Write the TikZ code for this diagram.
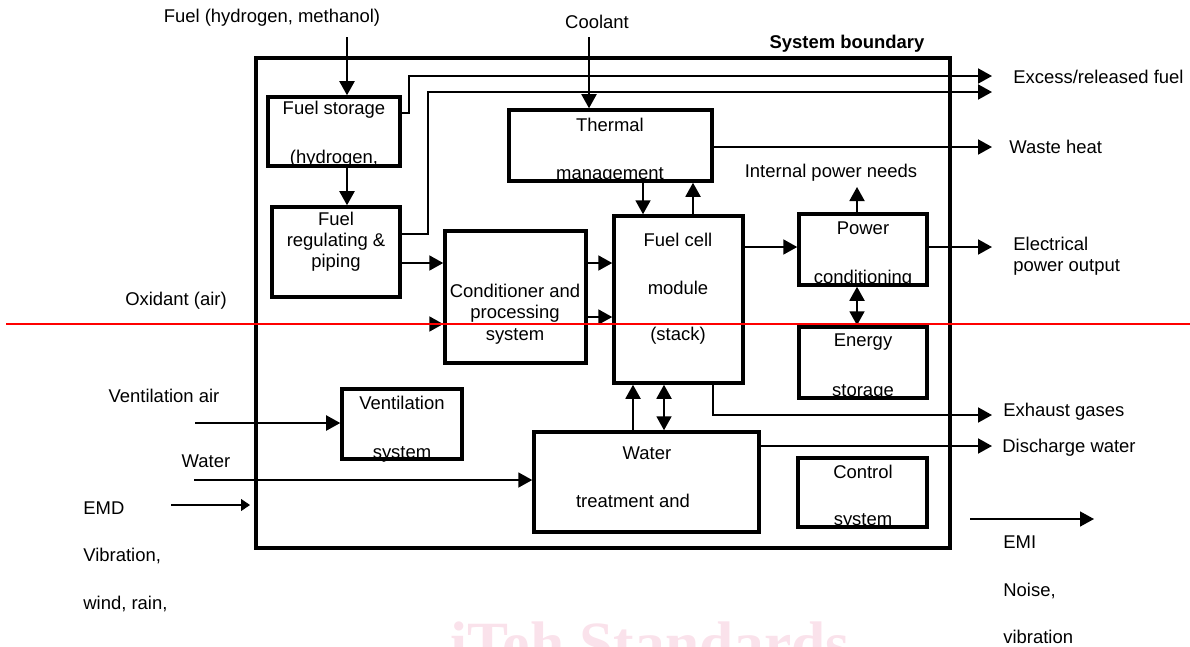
\documentclass[tikz,border=0pt]{standalone}
\usepackage{fontspec}
\setmainfont{Liberation Sans}
\newfontfamily\wmfont{Liberation Serif}
\usetikzlibrary{arrows.meta,fit,calc}
\definecolor{wmpink}{RGB}{250,226,235}
\newcommand\dfont{\fontsize{10.5}{12}\selectfont}
\begin{document}
\begin{tikzpicture}[x=0.02cm,y=-0.02cm,
  box/.style={draw,line width=2pt,inner sep=0pt},
  txt/.style={font=\dfont,inner sep=0pt},
  arr/.style={line width=1.1pt,-{Triangle[length=2.8mm,width=3mm]}},
  darr/.style={line width=1.1pt,{Triangle[length=2.8mm,width=3mm]}-{Triangle[length=2.8mm,width=3mm]}},
  emdarr/.style={line width=0.6pt,-{Triangle[length=1.8mm,width=2.4mm]}},
  emiarr/.style={line width=0.9pt,-{Triangle[length=2.8mm,width=3mm]}}]
\useasboundingbox (0,0) rectangle (1190,646);
\clip (0,0) rectangle (1190,646);
% watermark
\node[text=wmpink,font=\wmfont\bfseries\fontsize{35}{40}\selectfont,anchor=base,inner sep=0pt] (wm) at (650,664) {iTeh Standards};

% texts inside boxes (drawn before the boxes)
\node[txt] (fst1) at (334,110) {Fuel storage};
\node[txt] (fst2) at (334,159) {(hydrogen,};
\node[txt,align=center,font=\fontsize{10.5}{11.9}\selectfont] (frt) at (336,242) {Fuel\\regulating \&\\piping};
\node[txt,align=center,font=\fontsize{10.5}{12.2}\selectfont] (cpt) at (515,314) {Conditioner and\\processing\\system};
\node[txt] (tmt1) at (610,125) {Thermal};
\node[txt] (tmt2) at (610,175) {management};
\node[txt] (fct1) at (678,240) {Fuel cell};
\node[txt] (fct2) at (678,288) {module};
\node[txt] (fct3) at (678,336) {(stack)};
\node[txt] (pct1) at (863,228) {Power};
\node[txt] (pct2) at (863,279) {conditioning};
\node[txt] (est1) at (863,342) {Energy};
\node[txt] (est2) at (863,392) {storage};
\node[txt] (vst1) at (402,403) {Ventilation};
\node[txt] (vst2) at (402,454) {system};
\node[txt] (wtt1) at (647,453) {Water};
\node[txt] (wtt2) at (633,501) {treatment and};
\node[txt] (cst1) at (863,472) {Control};
\node[txt] (cst2) at (863,521) {system};

% boxes
\node[draw,line width=2.5pt,inner sep=0pt,fit={(256,58)(950,548)}] (sb) {};
\node[box,fit={(268,97)(400,166)}] (fs) {};
\node[box,fit={(272,207)(400,297)}] (fr) {};
\node[box,fit={(445,231)(586,363)}] (cp) {};
\node[box,fit={(509,110)(712,181)}] (tm) {};
\node[box,fit={(614,216)(743,383)}] (fc) {};
\node[box,fit={(799,214)(927,285)}] (pc) {};
\node[box,fit={(799,327)(927,398)}] (es) {};
\node[box,fit={(342,389)(462,459)}] (vs) {};
\node[box,fit={(534,432)(759,532)}] (wt) {};
\node[box,fit={(798,458)(927,527)}] (cs) {};

% outside labels
\node[txt,font=\dfont\bfseries] (sbl) at (847,44) {System boundary};
\node[txt] (fuelL) at (272,18) {Fuel (hydrogen, methanol)};
\node[txt] (coolL) at (597,22) {Coolant};
\node[txt,anchor=west] (excL) at (1013,77) {Excess/released fuel};
\node[txt,anchor=west] (wasteL) at (1009,147) {Waste heat};
\node[txt] (ipL) at (831,173) {Internal power needs};
\node[txt,anchor=west,align=left,font=\fontsize{10.5}{11.9}\selectfont] (elL) at (1013,256) {Electrical\\power output};
\node[txt,anchor=west] (exhL) at (1003,412) {Exhaust gases};
\node[txt,anchor=west] (disL) at (1002,448) {Discharge water};
\node[txt] (oxL) at (176,301) {Oxidant (air)};
\node[txt] (vaL) at (164,396) {Ventilation air};
\node[txt] (waL) at (206,461) {Water};
\node[txt,anchor=west] (emdL) at (83,508) {EMD};
\node[txt,anchor=west] (vibL) at (83,556) {Vibration,};
\node[txt,anchor=west] (wrL) at (83,604) {wind, rain,};
\node[txt,anchor=west] (emiL) at (1003,542) {EMI};
\node[txt,anchor=west] (noiL) at (1003,591) {Noise,};
\node[txt,anchor=west] (vbL) at (1003,637) {vibration};

% connectors
\coordinate (fin) at (347,37);
\draw[arr] (fin) -- (fin |- fs.north);
\draw[arr] (fin |- fs.south) -- (fin |- fr.north);
\coordinate (cin) at (589,37);
\draw[arr] (cin) -- (cin |- tm.north);
\coordinate (ex1) at (992,76);
\coordinate (ex2) at (992,92);
\draw[arr] (fs.east |- 0,113) -| (409,76) -- (ex1);
\draw[arr] (fr.east |- 0,234) -| (428,92) -- (ex2);
\coordinate (wh) at (992,147);
\draw[arr] (tm.east |- wh) -- (wh);
\draw[arr] (tm.south -| 643,0) -- (fc.north -| 643,0);
\draw[arr] (fc.north -| 693,0) -- (tm.south -| 693,0);
\coordinate (ipn) at (857,187);
\draw[arr] (pc.north -| ipn) -- (ipn);
\draw[arr] (fc.east |- 0,247) -- (pc.west |- 0,247);
\coordinate (eo) at (992,247);
\draw[arr] (pc.east |- eo) -- (eo);
\draw[darr] (pc.south -| 857,0) -- (es.north -| 857,0);
\draw[arr] (fr.east |- 0,263) -- (cp.west |- 0,263);
\coordinate (oxin) at (196,324);
\draw[arr] (oxin) -- (cp.west |- oxin);
\draw[arr] (cp.east |- 0,263) -- (fc.west |- 0,263);
\draw[arr] (cp.east |- 0,317) -- (fc.west |- 0,317);
\coordinate (exh) at (992,415);
\draw[arr] (fc.south -| 713,0) |- (exh);
\draw[arr] (wt.north -| 633,0) -- (fc.south -| 633,0);
\draw[darr] (fc.south -| 664,0) -- (wt.north -| 664,0);
\coordinate (dw) at (992,446);
\draw[arr] (wt.east |- dw) -- (dw);
\coordinate (vain) at (195,423);
\draw[arr] (vain) -- (vs.west |- vain);
\coordinate (wain) at (194,480);
\draw[arr] (wain) -- (wt.west |- wain);
\coordinate (emd1) at (171,505);
\coordinate (emd2) at (250,505);
\draw[emdarr] (emd1) -- (emd2);
\coordinate (emi1) at (970,519);
\coordinate (emi2) at (1094,519);
\draw[emiarr] (emi1) -- (emi2);

% red rule
\draw[red,line width=0.6pt] (6,324) -- (1190,324);
\end{tikzpicture}
\end{document}
